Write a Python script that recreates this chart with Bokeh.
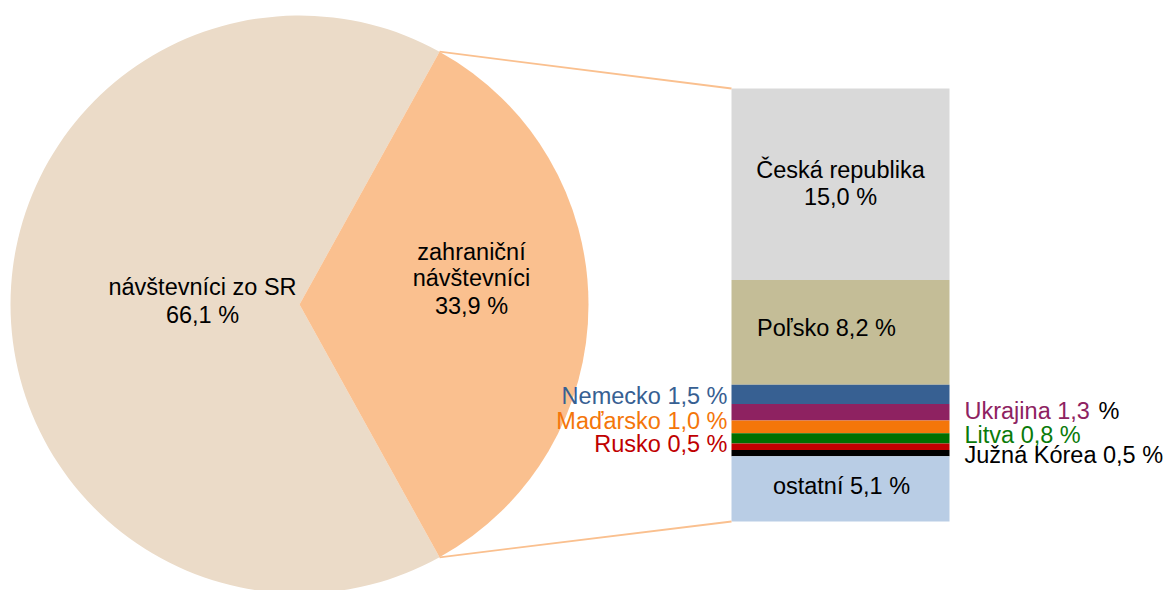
import math
from bokeh.plotting import figure
from bokeh.models import Range1d, ColumnDataSource
from bokeh.core.properties import value
from bokeh.embed import file_html
from bokeh.resources import INLINE

# ---- data ----
pie_labels = ["návštevníci zo SR", "zahraniční návštevníci"]
pie_values = [66.1, 33.9]
pie_colors = ["#ebdbc8", "#fac08f"]

countries = ["Česká republika", "Poľsko", "Nemecko", "Ukrajina", "Maďarsko",
             "Litva", "Rusko", "Južná Kórea", "ostatní"]
country_values = [15.0, 8.2, 1.5, 1.3, 1.0, 0.8, 0.5, 0.5, 5.1]
country_colors = ["#d9d9d9", "#c4bd97", "#376092", "#8e2261", "#f4760a",
                  "#006f00", "#c00000", "#000000", "#b9cde5"]
label_colors = ["#000000", "#000000", "#376092", "#8e2261", "#f4760a",
                "#0a7a0a", "#c00000", "#000000", "#000000"]

def fmt(v):
    return f"{v:.1f}".replace(".", ",") + " %"

# ---- layout ----
W, H = 1167, 590
p = figure(width=W, height=H, output_backend="svg", toolbar_location=None,
           x_range=Range1d(0, W), y_range=Range1d(-H, 0),
           min_border=0, min_border_left=0, min_border_right=0,
           min_border_top=0, min_border_bottom=0)
p.axis.visible = False
p.grid.visible = False
p.outline_line_color = None
p.background_fill_color = "white"
p.border_fill_color = "white"

FONT = value("Liberation Sans")
FS = "23.5px"
DY = 8.5  # text baseline correction

# pie
cx, cy, R = 299, -304, 289
total = sum(pie_values)
half = pie_values[1] / total * math.pi  # half-angle of foreign slice
p.wedge(x=cx, y=cy, radius=R, start_angle=half, end_angle=2 * math.pi - half,
        fill_color=pie_colors[0], line_color=None)
p.wedge(x=cx, y=cy, radius=R, start_angle=-half, end_angle=half,
        fill_color=pie_colors[1], line_color=None)

# bar of pie
bx0, bx1 = 731, 949
btop, bbot = -88, -521
scale = (btop - bbot) / sum(country_values)
tops, bots = [], []
acc = btop
for v in country_values:
    tops.append(acc)
    acc -= v * scale
    bots.append(acc)
src = ColumnDataSource(dict(left=[bx0] * len(countries), right=[bx1] * len(countries),
                            top=tops, bottom=bots, color=country_colors))
p.quad(left="left", right="right", top="top", bottom="bottom", fill_color="color",
       line_color=None, source=src)

# connector lines
ax = cx + R * math.cos(half)
ay_top = cy + R * math.sin(half)
ay_bot = cy - R * math.sin(half)
p.line([ax, bx0], [ay_top, btop], line_color="#fac08f", line_width=1.8)
p.line([ax, bx0], [ay_bot, bbot], line_color="#fac08f", line_width=1.8)

def txt(x, y, t, color="#000000", align="center"):
    p.text(x=[x], y=[y + DY], text=[t], text_font=FONT, text_font_size=FS,
           text_color=color, text_align=align, text_baseline="alphabetic")

# pie labels
txt(202, -294.5, pie_labels[0])
txt(202, -322.5, fmt(pie_values[0]))
w1, w2 = pie_labels[1].split(" ")
txt(471, -259.5, w1)
txt(471, -286, w2)
txt(471, -313.5, fmt(pie_values[1]))

# bar labels
txt(840, -177.5, countries[0])
txt(840, -205, fmt(country_values[0]))
txt(826, -335.5, countries[1] + " " + fmt(country_values[1]))
txt(841, -493.5, countries[8] + " " + fmt(country_values[8]))

# left side small labels
txt(727, -404, countries[2] + " " + fmt(country_values[2]), label_colors[2], "right")
txt(727, -429, countries[4] + " " + fmt(country_values[4]), label_colors[4], "right")
txt(727, -452, countries[6] + " " + fmt(country_values[6]), label_colors[6], "right")

# right side small labels
uk = countries[3] + " " + fmt(country_values[3])[:-2]
txt(964, -419, uk, label_colors[3], "left")
txt(1098, -419, "%", "#000000", "left")
txt(964, -443, countries[5] + " " + fmt(country_values[5]), label_colors[5], "left")
txt(964, -462.5, countries[7] + " " + fmt(country_values[7]), label_colors[7], "left")

open("out.html", "w").write(file_html(p, INLINE))
